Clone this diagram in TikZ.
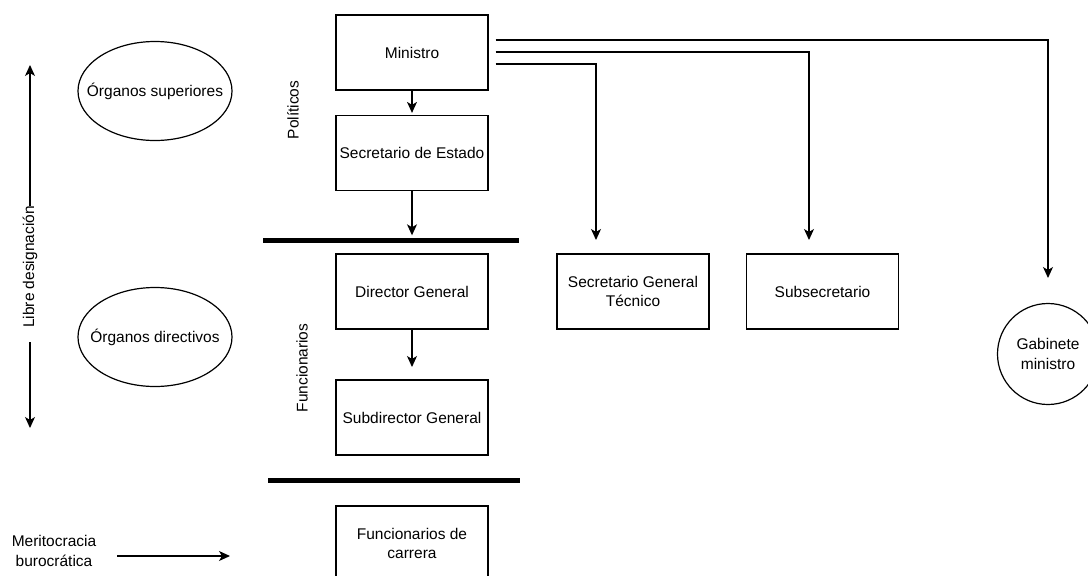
\documentclass[tikz,border=0pt]{standalone}
\usepackage{fontspec}
\setmainfont{Liberation Sans}
\usetikzlibrary{shapes.geometric,arrows.meta}
\begin{document}
\begin{tikzpicture}[x=1pt,y=-1pt,
  every node/.style={font=\fontsize{15.5}{19.5}\selectfont, text=black},
  box/.style={draw, line width=1.2pt, rectangle, minimum width=152pt, minimum height=75pt, align=center, inner sep=2pt},
  oval/.style={draw, line width=1.2pt, ellipse, minimum width=154pt, minimum height=99pt, inner sep=0pt, align=center},
  roundnode/.style={draw, line width=1.2pt, circle, minimum size=101pt, inner sep=0pt, align=center},
  bar/.style={fill=black, rectangle, minimum width=256pt, minimum height=5pt, inner sep=0pt},
  lbl/.style={inner sep=0pt, align=center},
  arr/.style={line width=1.2pt, -{Stealth[length=11pt,width=10pt,inset=3pt]}},
]
\useasboundingbox (0,0) rectangle (1088,576);
\clip (0,0) rectangle (1088,576);

% central column
\node[box] (min) at (412,52.5) {Ministro};
\node[box] (sec) at (412,153) {Secretario de Estado};
\node[bar] (bar1) at (391,240) {};
\node[box] (dg) at (412,291.5) {Director General};
\node[box] (sdg) at (412,417.5) {Subdirector General};
\node[bar, minimum width=252pt] (bar2) at (394,480) {};
\node[box] (fc) at (412,543.5) {Funcionarios de\\carrera};

% right boxes
\node[box] (sgt) at (633,291.5) {Secretario General\\Técnico};
\node[box] (sub) at (822.5,291.5) {Subsecretario};
\node[roundnode] (gab) at (1048,354) {\makebox[0pt]{Gabinete}\\\makebox[0pt]{ministro}};

% left ellipses
\node[oval] (os) at (155,91) {\makebox[0pt]{Órganos superiores}};
\node[oval] (od) at (155,337) {\makebox[0pt]{Órganos directivos}};

% side labels
\node[lbl, rotate=90] (pol) at (293,110) {Políticos};
\node[lbl, rotate=90] (fun) at (302,368) {Funcionarios};
\node[lbl, rotate=90] (ld) at (30,267) {Libre designación};
\node[lbl] (mer) at (54,551) {Meritocracia\\burocrática};

% free ends
\coordinate (dgout) at (412,367);
\coordinate (sgtin) at (596,240);
\coordinate (subin) at (809,240);
\coordinate (gabin) at (1048,278);
\coordinate (ldtop) at (30,65);
\coordinate (ldbot) at (30,428);
\coordinate (ldlow) at (30,342);
\coordinate (merstart) at (117,556);
\coordinate (merend) at (230,556);

% connectors
\draw[arr] (min.south) -- ([yshift=2pt]sec.north);
\draw[arr] (sec.south) -- ([yshift=2pt]bar1.north -| sec.south);
\draw[arr] (dg.south) -- (dgout);
\draw[arr] ([shift={(7,-12.5)}]min.east) -| (gabin);
\draw[arr] ([shift={(7,-0.5)}]min.east) -| (subin);
\draw[arr] ([shift={(7,11.5)}]min.east) -| (sgtin);
\draw[arr] (ld.east) -- (ldtop);
\draw[arr] (ldlow) -- (ldbot);
\draw[arr] (merstart) -- (merend);
\end{tikzpicture}
\end{document}
